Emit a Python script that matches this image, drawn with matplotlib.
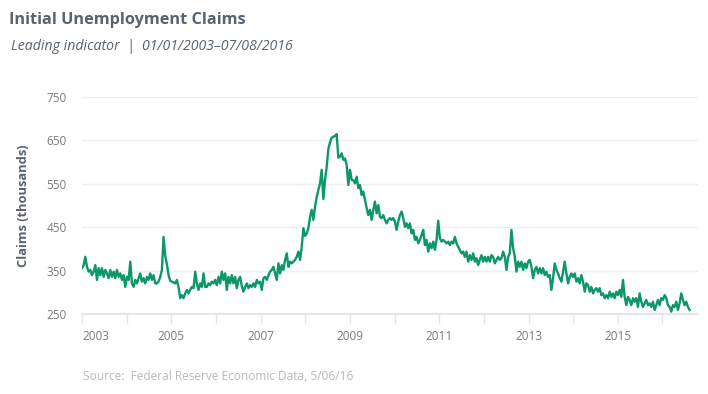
import matplotlib
matplotlib.use("Agg")
import matplotlib.pyplot as plt
import pandas as pd

# ---- data (weekly-ish readings, thousands) ----
claims_2003_2006 = [356, 363, 382, 359, 348, 352, 340, 348, 363, 329, 356, 340, 356, 336, 352, 344,
                    333, 352, 336, 348, 333, 352, 336, 344, 329, 340, 313, 336, 329, 371, 321, 313,
                    329, 321, 333, 344, 325, 333, 321, 336, 329, 344, 329, 340, 321, 321, 325, 336,
                    352, 428, 385, 365, 340, 327, 325, 323, 321, 329, 312, 287, 294, 287, 298, 306,
                    298, 306, 313, 310, 348, 321, 306, 321, 313, 344, 313, 313, 321, 317, 325, 321,
                    329, 317, 336, 321, 348, 329, 344, 306, 336, 321, 340, 321, 336, 310, 329, 336]
claims_2006_2009 = [315, 302, 313, 321, 310, 317, 313, 321, 313, 329, 321, 325, 306, 333, 336, 329,
                    340, 348, 352, 359, 344, 329, 367, 344, 363, 352, 375, 390, 359, 371, 367, 371,
                    375, 382, 394, 375, 405, 448, 430, 436, 448, 474, 490, 467, 497, 520, 536, 551,
                    582, 515, 559, 589, 630, 645, 656, 658, 660, 664, 610, 612, 620, 605, 608, 593,
                    547, 582, 559, 558, 551, 566, 540, 547, 524, 532, 513, 494, 478, 490, 467, 490,
                    509, 482, 501, 474, 471, 478, 467, 459, 467, 471]
claims_2009_2013 = [467, 471, 463, 444, 463, 478, 486, 471, 451, 459, 448, 459, 436, 444, 421, 428,
                    413, 421, 432, 444, 409, 421, 394, 413, 402, 417, 398, 421, 465, 425, 417, 421,
                    417, 413, 417, 409, 417, 413, 428, 413, 405, 398, 390, 394, 382, 394, 371, 386,
                    375, 390, 371, 379, 363, 375, 386, 371, 382, 371, 382, 371, 386, 382, 367, 375,
                    382, 375, 379, 394, 382, 352, 382, 390, 444, 402, 382, 348, 371, 359, 371, 352,
                    367, 356, 371, 375, 359, 333, 352, 359, 344, 356]
claims_2013_2016 = [344, 356, 340, 348, 336, 340, 306, 333, 367, 352, 344, 333, 325, 348, 371, 344,
                    321, 336, 344, 336, 344, 325, 333, 321, 340, 325, 302, 321, 317, 302, 313, 298,
                    306, 310, 302, 310, 294, 298, 287, 294, 287, 302, 290, 298, 287, 302, 294, 306,
                    290, 329, 290, 271, 290, 283, 271, 287, 279, 287, 267, 298, 279, 267, 275, 283,
                    271, 275, 267, 279, 260, 271, 283, 271, 287, 283, 294, 287, 271, 267, 256, 271,
                    267, 279, 260, 275, 298, 283, 271, 279, 267, 260]
claims = claims_2003_2006 + claims_2006_2009 + claims_2009_2013 + claims_2013_2016
series_start, series_end = "2003-01-01", "2016-08-10"
year_ticks = [2003, 2005, 2007, 2009, 2011, 2013, 2015]
y_ticks = [250, 350, 450, 550, 650, 750]

dates = pd.date_range(series_start, series_end, periods=len(claims))

# ---- styling ----
plt.rcParams['font.family'] = ['Open Sans', 'DejaVu Sans']
title_col = "#58636d"
tick_col = "#7a7a7a"
grid_col = "#efefef"
green = "#0c9866"

fig = plt.figure(figsize=(7.08, 3.94), dpi=100)
ax = fig.add_axes([82/708, 1-314.3/394, 616/708, 217.6/394])

ax.plot(dates, claims, color=green, lw=1.7, solid_joinstyle='round')

ax.set_ylim(250, 750)
ax.set_xlim(pd.Timestamp("2003-01-01"), pd.Timestamp("2016-10-18"))
ax.set_yticks(y_ticks)
ax.set_yticklabels([str(v) for v in y_ticks])
ax.yaxis.grid(True, color=grid_col, lw=1)
ax.set_axisbelow(True)
ax.tick_params(axis='y', length=0, pad=11, labelsize=8.5, labelcolor=tick_col)

major = [pd.Timestamp(f"{y}-01-01") for y in year_ticks]
minor = [pd.Timestamp(f"{y+1}-01-01") for y in year_ticks]
ax.set_xticks(major)
ax.set_xticklabels([str(y) for y in year_ticks])
ax.set_xticks(minor, minor=True)
ax.tick_params(axis='x', which='both', length=7, width=1, color="#e6e6e6",
               labelsize=8.5, labelcolor=tick_col, pad=4)
ax.xaxis.get_majorticklabels()[0].set_horizontalalignment('left')

for s in ['top', 'right', 'left']:
    ax.spines[s].set_visible(False)
ax.spines['bottom'].set_color("#e6e6e6")
ax.spines['bottom'].set_linewidth(1.5)

ax.set_ylabel("Claims (thousands)", fontsize=9.3, fontweight='bold', color=title_col, labelpad=12)

fig.text(9/708, 1-24/394, "Initial Unemployment Claims", fontsize=11.7, fontweight='bold',
         color=title_col, va='baseline', ha='left')
fig.text(11/708, 1-49.5/394, "Leading indicator  |  01/01/2003\u201307/08/2016", fontsize=10.2,
         style='italic', color=title_col, va='baseline', ha='left')
fig.text(83/708, 1-380/394, "Source:  Federal Reserve Economic Data, 5/06/16", fontsize=8.6,
         color="#b9b9b9", va='baseline', ha='left')

fig.savefig("out.png", dpi=100)
